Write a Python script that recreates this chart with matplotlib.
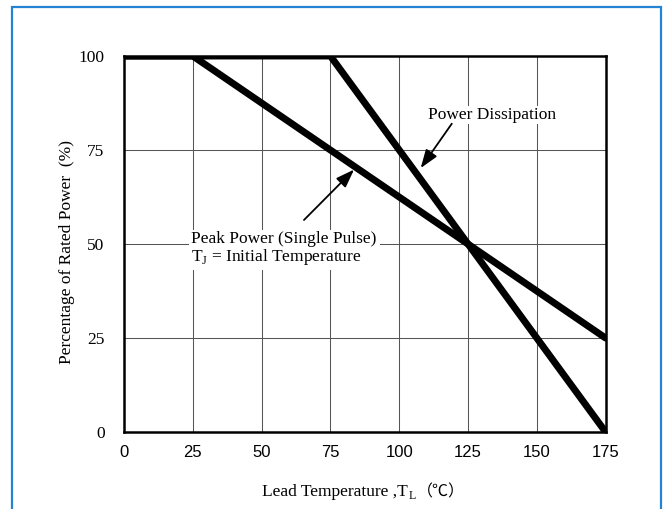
import matplotlib.pyplot as plt
from matplotlib.patches import Rectangle

# derating curves
peak_x = [0, 25, 175]
peak_y = [100, 100, 25]
diss_x = [0, 75, 175]
diss_y = [100, 100, 0]

xticks = [0, 25, 50, 75, 100, 125, 150, 175]
yticks = [0, 25, 50, 75, 100]

serif = ['Liberation Serif', 'Noto Sans CJK SC', 'DejaVu Sans']
fs = 12.5

fig = plt.figure(figsize=(6.7, 5.09), dpi=100)
fig.patches.append(Rectangle((12 / 670, -0.05), 649 / 670, 1.05 - 7 / 509,
                             transform=fig.transFigure, fill=False,
                             edgecolor='#2384d6', linewidth=1.6))

ax = fig.add_axes([0.185, 0.151, 0.719, 0.739])
ax.set_xlim(0, 175)
ax.set_ylim(0, 100)

for x in xticks[1:-1]:
    ax.axvline(x, color='#555555', linewidth=0.75, zorder=1)
for y in yticks[1:-1]:
    ax.axhline(y, color='#555555', linewidth=0.75, zorder=1)

ax.plot(peak_x, peak_y, color='black', linewidth=5, solid_capstyle='round', zorder=4)
ax.plot(diss_x, diss_y, color='black', linewidth=5, solid_capstyle='round', zorder=4)

for s in ax.spines.values():
    s.set_linewidth(1.8)

ax.set_xticks(xticks)
ax.set_yticks(yticks)
ax.tick_params(axis='x', length=0, pad=9.5)
ax.tick_params(axis='y', length=0, pad=14)
for lab in ax.get_xticklabels():
    lab.set_family('Liberation Sans')
    lab.set_fontsize(12)
for lab in ax.get_yticklabels():
    lab.set_family('Liberation Serif')
    lab.set_fontsize(fs)

# axis titles
fig.text(67 / 670, 1 - 252 / 509, 'Percentage of Rated Power  (%)', family=serif,
         fontsize=fs, rotation=90, ha='center', va='center')

renderer = fig.canvas.get_renderer()
t1 = fig.text(262 / 670, 1 - 496 / 509, 'Lead Temperature ,T', family=serif,
              fontsize=fs, ha='left', va='baseline')
x1 = t1.get_window_extent(renderer).x1
t2 = fig.text(x1 / 670 + 0.001, 1 - 499 / 509, 'L', family=serif, fontsize=8.5,
              ha='left', va='baseline')
x2 = t2.get_window_extent(renderer).x1
fig.text(x2 / 670 + 0.002, 1 - 496 / 509, '（℃）', family=serif, fontsize=11.5,
         ha='left', va='baseline')

# annotations
ax.text(110.5, 84.3, 'Power Dissipation', family=serif, fontsize=fs,
        ha='left', va='center', zorder=5,
        bbox=dict(facecolor='white', edgecolor='none', pad=1))
ax.annotate('', xy=(107.8, 70.2), xytext=(119.1, 82.0), zorder=5,
            arrowprops=dict(arrowstyle='-|>,head_length=0.7,head_width=0.25',
                            color='black', lw=1.3, mutation_scale=16,
                            shrinkA=0, shrinkB=0))

ax.text(24.5, 48.7, 'Peak Power (Single Pulse)\nT$_{\\mathregular{J}}$ = Initial Temperature',
        family='Liberation Serif', fontsize=fs, ha='left', va='center',
        linespacing=1.05, zorder=5,
        bbox=dict(facecolor='white', edgecolor='none', pad=2))
ax.annotate('', xy=(83.6, 69.8), xytext=(65.4, 56.4), zorder=5,
            arrowprops=dict(arrowstyle='-|>,head_length=0.7,head_width=0.25',
                            color='black', lw=1.3, mutation_scale=16,
                            shrinkA=0, shrinkB=0))

fig.savefig('out.png', dpi=100)
